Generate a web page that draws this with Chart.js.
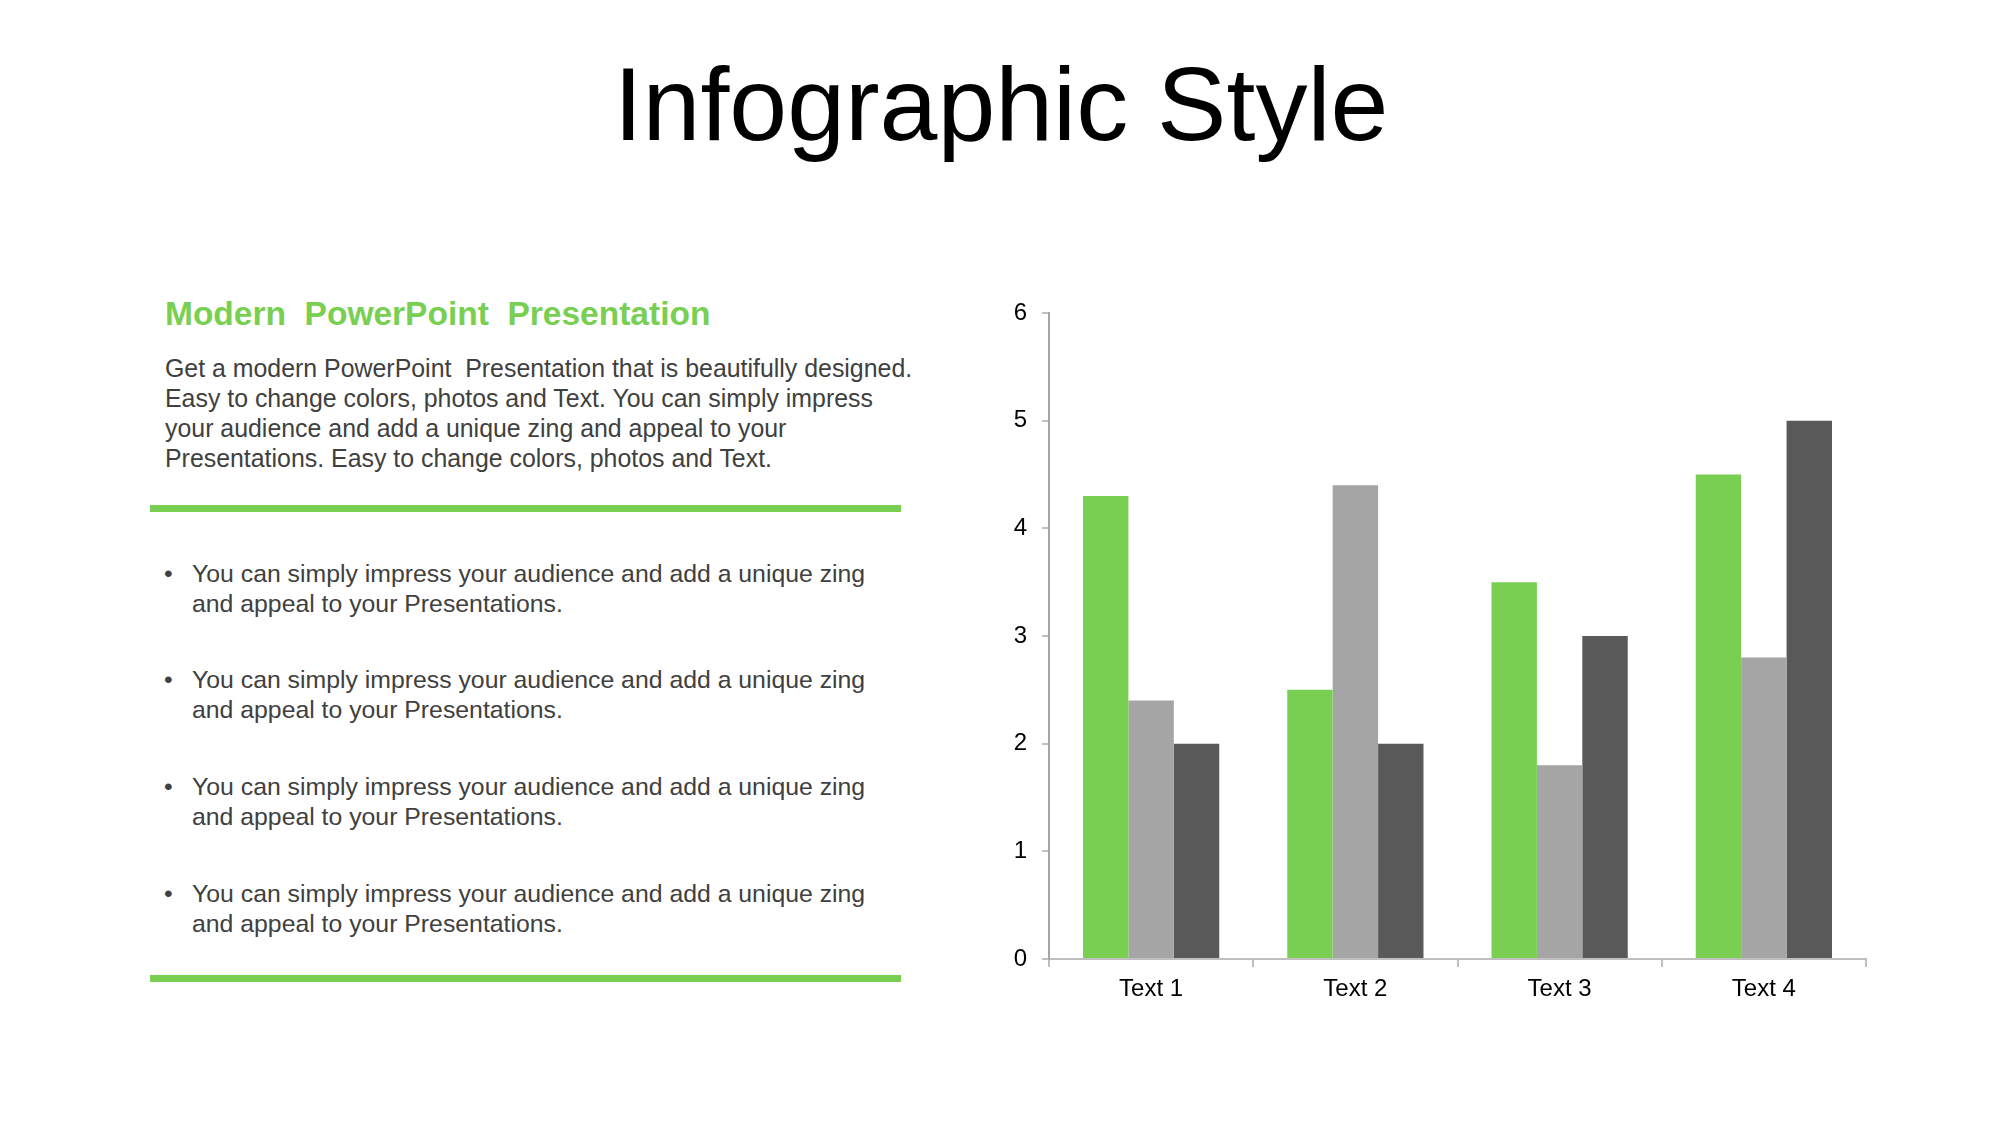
<!DOCTYPE html>
<html>
<head>
<meta charset="utf-8">
<title>Infographic Style</title>
<script src="https://cdn.jsdelivr.net/npm/chart.js@4.4.0/dist/chart.umd.min.js"></script>
<style>
  html, body { margin: 0; padding: 0; background: #fff; }
  body { width: 2000px; height: 1125px; position: relative; overflow: hidden;
         font-family: "Liberation Sans", Arial, sans-serif; }
  .title { position: absolute; left: 1px; top: 52px; width: 2000px; text-align: center;
           font-size: 104px; line-height: 104px; color: #000; }
  .heading { position: absolute; left: 165px; top: 294px; font-size: 33.5px; line-height: 40px;
             font-weight: bold; color: #78cf52; white-space: pre; }
  .para { position: absolute; left: 165px; top: 353px; font-size: 24.9px; line-height: 30px;
          color: #404040; white-space: pre; }
  .rule { position: absolute; left: 150px; width: 751px; height: 7px; background: #78cf52; }
  .bullet { position: absolute; left: 192px; font-size: 24.8px; line-height: 30px;
            color: #404040; white-space: pre; }
  .bullet::before { content: "\2022"; position: absolute; left: -28px; }
  #chart { position: absolute; left: 960px; top: 290px; }
</style>
</head>
<body>
<div class="title">Infographic Style</div>
<div class="heading">Modern  PowerPoint  Presentation</div>
<div class="para">Get a modern PowerPoint  Presentation that is beautifully designed.
Easy to change colors, photos and Text. You can simply impress
your audience and add a unique zing and appeal to your
Presentations. Easy to change colors, photos and Text.</div>
<div class="rule" style="top:505px"></div>
<div class="bullet" style="top:559px">You can simply impress your audience and add a unique zing
and appeal to your Presentations.</div>
<div class="bullet" style="top:665px">You can simply impress your audience and add a unique zing
and appeal to your Presentations.</div>
<div class="bullet" style="top:772px">You can simply impress your audience and add a unique zing
and appeal to your Presentations.</div>
<div class="bullet" style="top:879px">You can simply impress your audience and add a unique zing
and appeal to your Presentations.</div>
<div class="rule" style="top:975px"></div>

<canvas id="chart" width="940" height="740"></canvas>

<script>
var categories = ["Text 1", "Text 2", "Text 3", "Text 4"];
var series1 = [4.3, 2.5, 3.5, 4.5];
var series2 = [2.4, 4.4, 1.8, 2.8];
var series3 = [2, 2, 3, 5];
var yTicks = [0, 1, 2, 3, 4, 5, 6];

var axisColor = '#bfbfbf';
var tickFont = { family: 'Liberation Sans', size: 24 };

var ctx = document.getElementById('chart').getContext('2d');
var chart = new Chart(ctx, {
    type: 'bar',
    data: {
        labels: categories,
        datasets: [
            { label: 'Series 1', data: series1, backgroundColor: '#78cf52' },
            { label: 'Series 2', data: series2, backgroundColor: '#a5a5a5' },
            { label: 'Series 3', data: series3, backgroundColor: '#595959' }
        ]
    },
    options: {
        responsive: false,
        animation: false,
        layout: { padding: { top: 23, right: 34, bottom: 0, left: 0 } },
        datasets: { bar: { categoryPercentage: 0.667, barPercentage: 1.0, borderWidth: 0 } },
        plugins: { legend: { display: false }, tooltip: { enabled: false } },
        scales: {
            x: {
                grid: { drawOnChartArea: false, drawTicks: true, tickLength: 8,
                        color: axisColor, lineWidth: 2, offset: true },
                border: { display: true, color: axisColor, width: 2 },
                ticks: { font: tickFont, color: '#000', padding: 8 },
                afterFit: function (scale) { scale.height = 71; }
            },
            y: {
                min: yTicks[0],
                max: yTicks[yTicks.length - 1],
                afterBuildTicks: function (scale) {
                    scale.ticks = yTicks.map(function (v) { return { value: v }; });
                },
                grid: { drawOnChartArea: false, drawTicks: true, tickLength: 7,
                        color: axisColor, lineWidth: 2 },
                border: { display: true, color: '#a6a6a6', width: 2 },
                ticks: { font: tickFont, color: '#000', padding: 15 },
                afterFit: function (scale) {
                    // fixed axis width, and no extra label padding so the layout padding sets the top
                    scale.width = 89;
                    scale.paddingTop = 0;
                    scale.paddingBottom = 0;
                }
            }
        }
    }
});
</script>
</body>
</html>
